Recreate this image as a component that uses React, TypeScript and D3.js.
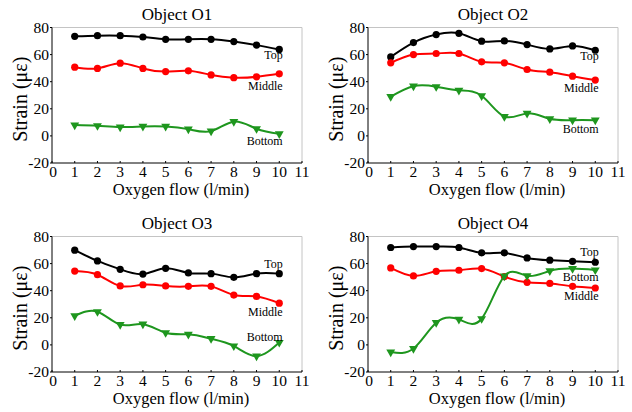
import React from 'react';
import * as d3 from 'd3';

const flows = [1, 2, 3, 4, 5, 6, 7, 8, 9, 10];
const xTicks = [0, 1, 2, 3, 4, 5, 6, 7, 8, 9, 10, 11];
const yTicks = [-20, 0, 20, 40, 60, 80];

const o1Top = [73.5, 74, 74, 73, 71.3, 71.3, 71.3, 69.6, 67, 63.8];
const o1Middle = [50.7, 49.8, 53.7, 49.8, 47.5, 48, 45, 43, 43.6, 45.8];
const o1Bottom = [8, 7.5, 6.5, 7, 7, 5, 3.5, 10.5, 5.3, 1.5];

const o2Top = [58.3, 68.9, 74.8, 75.7, 69.9, 70.1, 67.4, 64.2, 66.4, 63.2];
const o2Middle = [53.9, 60, 60.8, 60.8, 54.7, 53.9, 49, 47, 44.1, 41.2];
const o2Bottom = [29, 36.7, 36.3, 33.6, 29.6, 14.3, 16.6, 12.6, 11.6, 11.6];

const o3Top = [69.9, 62, 55.8, 52.3, 56.5, 53.1, 52.6, 49.9, 52.6, 52.6];
const o3Middle = [54.5, 51.8, 43.5, 44.4, 43.5, 43.2, 43.2, 36.8, 35.8, 30.8];
const o3Bottom = [21.5, 24.5, 15, 15.3, 9, 7.8, 4.6, -0.8, -8.3, 1.8];

const o4Top = [71.9, 72.6, 72.6, 71.9, 67.9, 67.9, 64.2, 62.5, 61.7, 61];
const o4Middle = [56.8, 50.9, 54.3, 55.1, 56.3, 50.4, 46.2, 45.4, 43.2, 42];
const o4Bottom = [-5.3, -2.7, 16.4, 18.8, 19.3, 50.8, 51, 54.6, 56.3, 55.3];

const panels = [
  { title: 'Object O1', top: o1Top, middle: o1Middle, bottom: o1Bottom, labels: [59.6, 36.8, -3.9] },
  { title: 'Object O2', top: o2Top, middle: o2Middle, bottom: o2Bottom, labels: [58.8, 35.5, 5.1] },
  { title: 'Object O3', top: o3Top, middle: o3Middle, bottom: o3Bottom, labels: [59.5, 24.7, 5.9] },
  { title: 'Object O4', top: o4Top, middle: o4Middle, bottom: o4Bottom, labels: [68.6, 36, 50.6] },
];

const GREEN = '#1e961e';
const FONT = "'Liberation Serif', 'Times New Roman', Times, 'DejaVu Serif', serif";

const T = (props) => <text style={{ fontFamily: FONT }} fill="#000" {...props} />;

const Panel = ({ p, ox, plotTop }) => {
  const left = ox + 52;
  const right = ox + 302;
  const bottom = plotTop + 135.5;
  const x = d3.scaleLinear().domain([0, 11]).range([left, right]);
  const y = d3.scaleLinear().domain([-20, 80]).range([bottom, plotTop]);
  const line = d3.line<number>()
    .x((d, i) => x(flows[i]))
    .y((d) => y(d))
    .curve(d3.curveNatural);
  const tri = d3.symbol().type(d3.symbolTriangle).size(34)();
  const series = [
    { name: 'Top', values: p.top, color: '#000', shape: 'circle', label: p.labels[0] },
    { name: 'Middle', values: p.middle, color: '#ff0000', shape: 'circle', label: p.labels[1] },
    { name: 'Bottom', values: p.bottom, color: GREEN, shape: 'tri', label: p.labels[2] },
  ];
  const cx = (left + right) / 2;
  return (
    <g>
      <T x={cx} y={plotTop - 8} textAnchor="middle" fontSize={17}>{p.title}</T>
      <line x1={left} x2={right} y1={plotTop} y2={plotTop} stroke="#c4c4c4" />
      <line x1={right} x2={right} y1={plotTop} y2={bottom} stroke="#c4c4c4" />
      <line x1={left} x2={left} y1={plotTop} y2={bottom} stroke="#000" />
      <line x1={left} x2={right} y1={bottom} y2={bottom} stroke="#000" />
      {yTicks.map((t) => (
        <g key={'y' + t}>
          <line x1={left - 2} x2={left} y1={y(t)} y2={y(t)} stroke="#000" />
          <T x={left - 3} y={y(t)} dy="0.35em" textAnchor="end" fontSize={15.5}>{t}</T>
        </g>
      ))}
      {xTicks.map((t) => (
        <g key={'x' + t}>
          <line x1={x(t)} x2={x(t)} y1={bottom} y2={bottom - 2} stroke="#000" />
          <T x={x(t) + (t === 0 ? 1 : 0)} y={bottom + 14} textAnchor="middle" fontSize={15.5}>{t}</T>
        </g>
      ))}
      <T x={cx + 4} y={bottom + 32} textAnchor="middle" fontSize={16.5}>Oxygen flow (l/min)</T>
      <T transform={`translate(${ox + 27},${(plotTop + bottom) / 2 + 4}) rotate(-90)`} textAnchor="middle" fontSize={20}>Strain (με)</T>
      {series.map((s) => (
        <g key={s.name}>
          <path d={line(s.values)} fill="none" stroke={s.color} strokeWidth={2} />
          {s.values.map((v, i) =>
            s.shape === 'circle' ? (
              <circle key={i} cx={x(flows[i])} cy={y(v)} r={3.6} fill={s.color} />
            ) : (
              <path key={i} d={tri} fill={s.color} transform={`translate(${x(flows[i])},${y(v)}) rotate(180)`} />
            )
          )}
          <T x={x(10.15)} y={y(s.label)} dy="0.35em" textAnchor="end" fontSize={12}>{s.name}</T>
        </g>
      ))}
    </g>
  );
};

export default function App() {
  return (
    <div style={{ position: 'absolute', left: 0, top: 0 }}>
      <svg width={632} height={412} style={{ display: 'block', background: '#fff' }}>
        <Panel p={panels[0]} ox={0} plotTop={27.5} />
        <Panel p={panels[1]} ox={316} plotTop={27.5} />
        <Panel p={panels[2]} ox={0} plotTop={236.5} />
        <Panel p={panels[3]} ox={316} plotTop={236.5} />
      </svg>
    </div>
  );
}
